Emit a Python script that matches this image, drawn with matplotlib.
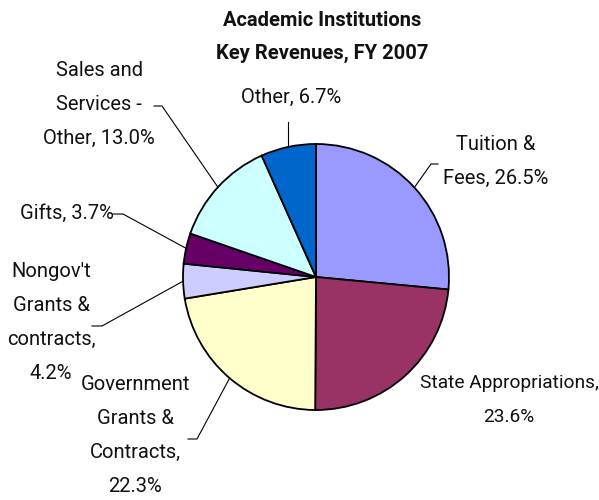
import numpy as np
import matplotlib
matplotlib.use("Agg")
import matplotlib.pyplot as plt

# Key revenues, FY 2007 (percent of total)
labels = ["Tuition &\nFees, 26.5%",
          "State Appropriations,\n23.6%",
          "Government\nGrants &\nContracts,\n22.3%",
          "Nongov't\nGrants &\ncontracts,\n4.2%",
          "Gifts, 3.7%",
          "Sales and\nServices -\nOther, 13.0%",
          "Other, 6.7%"]
shares = [26.5, 23.6, 22.3, 4.2, 3.7, 13.0, 6.7]
colors = ["#9999FF", "#993366", "#FFFFCC", "#CCCCFF", "#660066", "#CCFFFF", "#0066CC"]
title_lines = ["Academic Institutions", "Key Revenues, FY 2007"]

W, H = 599, 500
plt.rcParams['font.family'] = ['Roboto', 'DejaVu Sans']

fig = plt.figure(figsize=(W / 100, H / 100), dpi=100)
ax = fig.add_axes([0, 0, 1, 1])
ax.set_aspect('equal')
ax.axis('off')

cx, cy, r = 316, H - 277, 133
ax.pie(shares, colors=colors, startangle=90, counterclock=False,
       center=(cx, cy), radius=r,
       wedgeprops=dict(edgecolor='black', linewidth=1.3))
ax.set_xlim(0, W)
ax.set_ylim(0, H)

# label placement (pixel coords, y from top) and leader elbow
label_pos = [(496, 161.5), (509, 400.5), (135, 435.5), (51, 322.5),
             (67, 213), (99, 104), (291, 97)]
label_size = [14.5, 13.8, 14.5, 14.5, 14.5, 14.5, 14.5]
elbows = [[(438, 164), (431, 164)], None, [(188, 439), (197, 439)],
          [(92, 326), (102, 326)], [(113, 214), (123, 214)],
          [(154, 106), (162, 106)], [(290, 122)]]
step = 34  # px between label lines

start = 0.0
total = sum(shares)
for lab, s, (lx, ly), fs, elb in zip(labels, shares, label_pos, label_size, elbows):
    mid = (start + s / 2) / total * 360
    start += s
    lines = lab.split("\n")
    for i, t in enumerate(lines):
        y = ly + (i - (len(lines) - 1) / 2) * step
        ax.text(lx, H - y, t, ha='center', va='center', fontsize=fs,
                color='#111111')
    if elb is None:
        continue
    px = cx + r * np.sin(np.radians(mid))
    py = cy + r * np.cos(np.radians(mid))
    xs = [p[0] for p in elb] + [px]
    ys = [H - p[1] for p in elb] + [py]
    if len(elb) == 1:
        xs[0] = px
    ax.plot(xs, ys, color='black', linewidth=0.8)

for i, t in enumerate(title_lines):
    ax.text(322, H - (20 + 33 * i), t, ha='center', va='center',
            fontsize=14.5, fontweight='bold', color='#111111')

fig.savefig("out.png", dpi=100, facecolor='white')
